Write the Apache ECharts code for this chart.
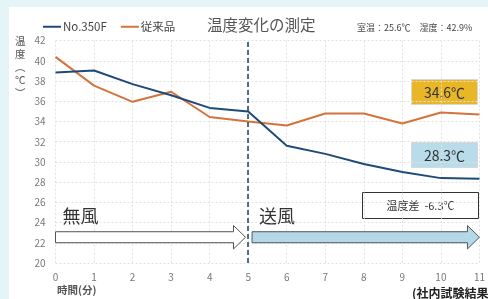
<!DOCTYPE html>
<html>
<head>
<meta charset="utf-8">
<script src="https://cdn.jsdelivr.net/npm/echarts@6/dist/echarts.min.js"></script>
<style>
  html, body { margin: 0; padding: 0; width: 488px; height: 299px; overflow: hidden; background: #e4f4f7; }
  #paper { position: absolute; left: 9px; top: 7px; right: 0; bottom: 0; background: #fff; }
  #main { position: absolute; left: 0; top: 0; width: 488px; height: 299px; }
</style>
</head>
<body>
<div id="paper"></div>
<div id="main"></div>
<script>
// 時間(分)
var minutes = [0, 1, 2, 3, 4, 5, 6, 7, 8, 9, 10, 11];
// 温度(℃)
var no350F = [38.85, 39.05, 37.7, 36.6, 35.35, 35.0, 31.6, 30.8, 29.8, 29.0, 28.4, 28.35];
var conventional = [40.4, 37.55, 35.95, 36.95, 34.45, 34.0, 33.6, 34.8, 34.8, 33.8, 34.9, 34.7];
// 無風 / 送風 の区間 [開始, 終了]
var phases = [[0, 4.93, '無風'], [5.1, 11.0, '送風']];
var switchMinute = 5;
var endLabels = ['34.6℃', '28.3℃'];
var diffLabel = '温度差  -6.3℃';

var font = '"Noto Sans CJK JP", "Noto Sans", sans-serif';
var chart = echarts.init(document.getElementById('main'));

function toPairs(vals) {
  return vals.map(function (v, i) { return [minutes[i], v]; });
}

chart.setOption({
  backgroundColor: 'transparent',
  textStyle: { fontFamily: font },
  animation: false,
  title: [
    { text: '温度変化の測定', left: 202, top: 12,
      textStyle: { fontSize: 15.5, fontWeight: 'normal', color: '#555', fontFamily: font } },
    { text: '室温：25.6℃　湿度：42.9%', left: 352, top: 18,
      textStyle: { fontSize: 9, fontWeight: 'normal', color: '#444', fontFamily: font } }
  ],
  legend: {
    left: 38, top: 16, itemWidth: 18, itemHeight: 2, itemGap: 14,
    icon: 'rect',
    textStyle: { fontSize: 11.5, color: '#444', fontFamily: font, padding: [0, 0, 0, -3] },
    data: ['No.350F', '従来品']
  },
  grid: { left: 55.5, right: 5, top: 40.7, bottom: 36, containLabel: false },
  xAxis: {
    type: 'value', min: 0, max: 11, interval: 1,
    axisLine: { show: false },
    axisTick: { show: false },
    axisLabel: { color: '#777', fontSize: 10, margin: 9 },
    splitLine: { show: true, lineStyle: { color: '#e2e2e2', type: [2, 2] } }
  },
  yAxis: {
    type: 'value', min: 20, max: 42, interval: 2,
    axisLine: { show: false },
    axisTick: { show: false },
    axisLabel: { color: '#777', fontSize: 10, margin: 10 },
    splitLine: { show: true, lineStyle: { color: '#e2e2e2', type: [2, 2] } }
  },
  graphic: [
    { type: 'text', left: 15, top: 35,
      style: { text: '温\n度\n︵\n℃\n︶', font: '10.5px ' + font, fill: '#555', lineHeight: 13, align: 'center' } },
    { type: 'text', left: 57, top: 285,
      style: { text: '時間(分)', font: 'bold 10.5px ' + font, fill: '#555' } },
    { type: 'text', left: 412, top: 287,
      style: { text: '(社内試験結果)', font: 'bold 12px ' + font, fill: '#222' } },
    { type: 'group', left: 411, top: 79, children: [
      { type: 'rect', shape: { width: 66, height: 25 }, style: { fill: '#e9b627', stroke: '#d8d8d8', lineWidth: 1 } },
      { type: 'text', style: { text: endLabels[0], x: 33, y: 13, align: 'center', verticalAlign: 'middle', font: '14px ' + font, fill: '#333' } }
    ] },
    { type: 'group', left: 411, top: 142, children: [
      { type: 'rect', shape: { width: 66, height: 25 }, style: { fill: '#b8dcea', stroke: '#d8d8d8', lineWidth: 1 } },
      { type: 'text', style: { text: endLabels[1], x: 33, y: 13, align: 'center', verticalAlign: 'middle', font: '14px ' + font, fill: '#333' } }
    ] },
    { type: 'group', left: 362, top: 192, children: [
      { type: 'rect', shape: { width: 116, height: 26 }, style: { fill: '#fff', stroke: '#333', lineWidth: 1 } },
      { type: 'text', style: { text: diffLabel, x: 58, y: 13, align: 'center', verticalAlign: 'middle', font: '11px ' + font, fill: '#333' } }
    ] }
  ],
  series: [
    {
      name: 'No.350F', type: 'line', data: toPairs(no350F),
      symbol: 'none', z: 4,
      itemStyle: { color: '#1f4a78' },
      lineStyle: { color: '#1f4a78', width: 2 },
      markLine: {
        silent: true, symbol: 'none', label: { show: false },
        lineStyle: { color: '#1f3d66', type: [5, 3], width: 1.5 },
        data: [{ xAxis: switchMinute }]
      }
    },
    {
      name: '従来品', type: 'line', data: toPairs(conventional),
      symbol: 'none', z: 3,
      itemStyle: { color: '#d4733b' },
      lineStyle: { color: '#d4733b', width: 2 }
    },
    {
      type: 'custom', silent: true, z: 2,
      data: phases,
      renderItem: function (params, api) {
        var a = api.coord([api.value(0), 22.55]);
        var b = api.coord([api.value(1), 22.55]);
        var head = 12, bh = 5.5, hh = 11.7;
        var blue = params.dataIndex === 1;
        var pts = [
          [a[0], a[1] - bh], [b[0] - head, a[1] - bh], [b[0] - head, a[1] - hh],
          [b[0], a[1]], [b[0] - head, a[1] + hh], [b[0] - head, a[1] + bh], [a[0], a[1] + bh]
        ];
        var lbl = api.coord([api.value(0), 24.6]);
        return {
          type: 'group',
          children: [
            { type: 'polygon', shape: { points: pts },
              style: { fill: blue ? '#b3d9e8' : '#fff', stroke: '#555', lineWidth: 1 } },
            { type: 'text', style: { text: phases[params.dataIndex][2], x: lbl[0] + 7, y: lbl[1],
              verticalAlign: 'middle', font: '18px ' + font, fill: '#333' } }
          ]
        };
      }
    }
  ]
});
</script>
</body>
</html>
